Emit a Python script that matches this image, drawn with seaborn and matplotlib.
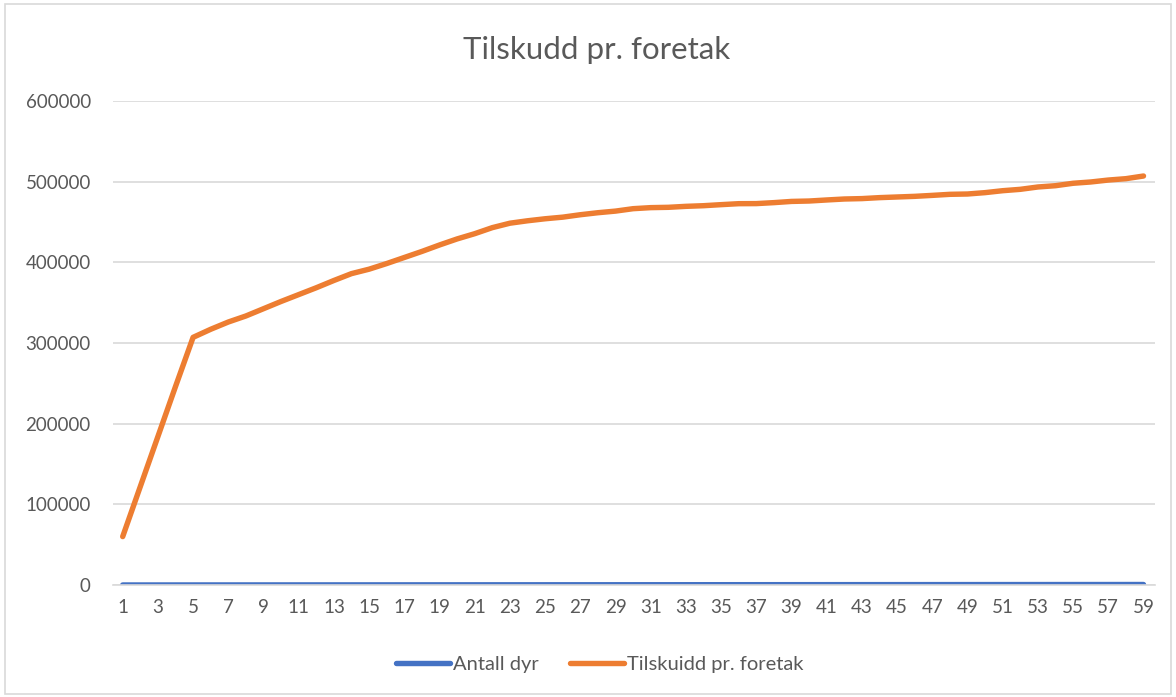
import pandas as pd
import matplotlib.pyplot as plt
import seaborn as sns
from matplotlib.patches import Rectangle

# --- Data ---
periode = list(range(1, 60))

antall_dyr = [10, 20, 30, 40, 50, 60, 70, 80, 90, 100,
              110, 120, 130, 140, 150, 160, 170, 180, 190, 200,
              210, 220, 230, 240, 250, 260, 270, 280, 290, 300,
              310, 320, 330, 340, 350, 360, 370, 380, 390, 400,
              410, 420, 430, 440, 450, 460, 470, 480, 490, 500,
              510, 520, 530, 540, 550, 560, 570, 580, 590]

tilskudd = [60000, 122000, 184000, 246000, 307000, 317000, 326000, 333500, 342500, 351500,
            360000, 368500, 377500, 386000, 391500, 398500, 406000, 413500, 421500, 429000,
            435500, 443000, 448500, 451500, 454000, 456000, 459000, 461500, 463500, 466500,
            467800, 468200, 469400, 470200, 471500, 472700, 472800, 474000, 475500, 476000,
            477300, 478500, 479000, 480200, 481000, 481800, 483000, 484300, 484700, 486400,
            488800, 490500, 493400, 495000, 498000, 499600, 502000, 503700, 507000]

y_ticks = [0, 100000, 200000, 300000, 400000, 500000, 600000]
x_ticks = periode[::2]

df = pd.DataFrame({"periode": periode, "Antall dyr": antall_dyr,
                   "Tilskuidd pr. foretak": tilskudd})

# --- Style ---
sns.set_theme(style="white")
plt.rcParams["font.family"] = ["Lato", "DejaVu Sans"]
text_col = "#595959"
grid_col = "#D9D9D9"
colors = {"Antall dyr": "#4472C4", "Tilskuidd pr. foretak": "#ED7D31"}

fig = plt.figure(figsize=(11.76, 6.97), dpi=100)
ax = fig.add_axes([0.0961, 0.1607, 0.886, 0.6944])

for name in ["Antall dyr", "Tilskuidd pr. foretak"]:
    sns.lineplot(data=df, x="periode", y=name, ax=ax, color=colors[name],
                 linewidth=3.9, label=name, legend=False,
                 solid_capstyle="round")

ax.set_xlim(0.45, 59.65)
ax.set_ylim(0, 600000)
ax.set_yticks(y_ticks)
ax.set_yticklabels([str(v) for v in y_ticks])
ax.set_xticks(x_ticks)
ax.set_xticklabels([str(v) for v in x_ticks])
ax.tick_params(axis="both", length=0, labelsize=13.5, colors=text_col)
ax.tick_params(axis="y", pad=16)
ax.tick_params(axis="x", pad=10)
ax.set_xlabel("")
ax.set_ylabel("")

ax.yaxis.grid(True, color=grid_col, linewidth=1.2)
ax.set_axisbelow(True)
for side in ["top", "right", "left"]:
    ax.spines[side].set_visible(False)
ax.spines["bottom"].set_color(grid_col)
ax.spines["bottom"].set_linewidth(1.2)

fig.text(0.507, 0.928, "Tilskudd pr. foretak", ha="center", va="center",
         fontsize=22.5, color=text_col)

handles, labels = ax.get_legend_handles_labels()
fig.legend(handles, labels, loc="center", bbox_to_anchor=(0.510, 0.047),
           ncol=2, frameon=False, fontsize=14.5, labelcolor=text_col,
           handlelength=2.65, handletextpad=0.15, columnspacing=1.6)

# thin chart border like the Excel chart area
fig.patches.append(Rectangle((0.004, 0.004), 0.992, 0.99, transform=fig.transFigure,
                             fill=False, edgecolor=grid_col, linewidth=1.2))

plt.savefig("out.png", dpi=100)
plt.close()
